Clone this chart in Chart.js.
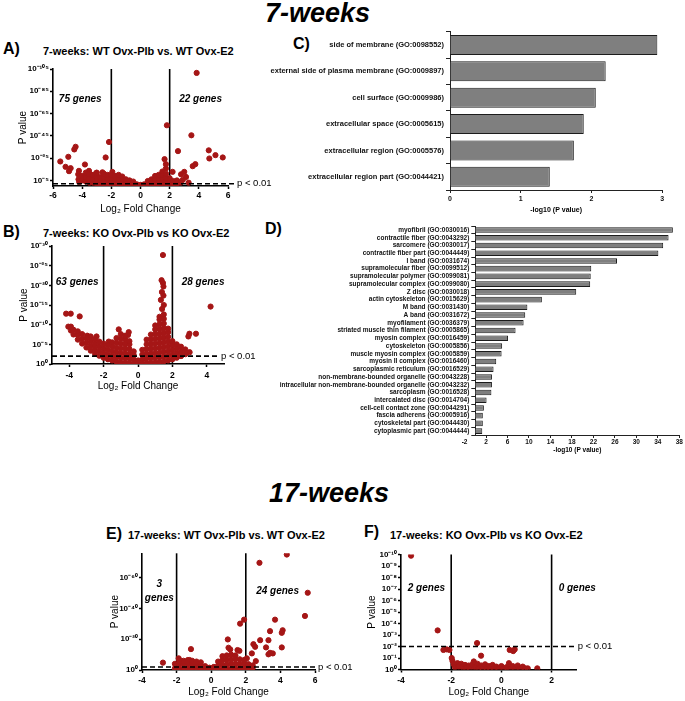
<!DOCTYPE html>
<html>
<head>
<meta charset="utf-8">
<script src="https://cdn.jsdelivr.net/npm/chart.js@4.4.0/dist/chart.umd.min.js"></script>
<style>
  body { margin: 0; background: #fff; }
  #page { position: relative; width: 685px; height: 701px; overflow: hidden; font-family: "Liberation Sans", Arial, sans-serif; color: #000; }
  #page canvas { position: absolute; }
  .t { position: absolute; white-space: nowrap; line-height: 1; }
  .big { font-size: 27px; font-weight: bold; font-style: italic; }
  .letter { font-size: 16px; font-weight: bold; }
  .ttl { font-size: 11px; font-weight: bold; }
</style>
</head>
<body>
<div id="page">
  <div class="t big" style="left:265px;top:0px">7-weeks</div>
  <div class="t big" style="left:269px;top:480px">17-weeks</div>

  <div class="t letter" style="left:3px;top:41px">A)</div>
  <div class="t ttl" style="left:43px;top:46px">7-weeks: WT Ovx-Plb vs. WT Ovx-E2</div>
  <div class="t letter" style="left:3px;top:224px">B)</div>
  <div class="t ttl" style="left:43px;top:228px">7-weeks: KO Ovx-Plb vs KO Ovx-E2</div>
  <div class="t letter" style="left:293px;top:36px">C)</div>
  <div class="t letter" style="left:265px;top:221px">D)</div>
  <div class="t letter" style="left:106px;top:526px">E)</div>
  <div class="t ttl" style="left:128px;top:530px">17-weeks: WT Ovx-Plb vs. WT Ovx-E2</div>
  <div class="t letter" style="left:364px;top:524px">F)</div>
  <div class="t ttl" style="left:390px;top:530px">17-weeks: KO Ovx-Plb vs KO Ovx-E2</div>

  <canvas id="chartA" width="285" height="160" style="left:0;top:60px"></canvas>
  <canvas id="chartB" width="285" height="162" style="left:0;top:238px"></canvas>
  <canvas id="chartC" width="430" height="195" style="left:255px;top:25px"></canvas>
  <canvas id="chartD" width="425" height="242" style="left:260px;top:218px"></canvas>
  <canvas id="chartE" width="290" height="156" style="left:90px;top:545px"></canvas>
  <canvas id="chartF" width="340" height="156" style="left:345px;top:545px"></canvas>
</div>
<script>
// volcano points: [log2 fold change, -log10 p]
const volcanoA = [
  [3.85,101.5],[1.81,54.5],[3.49,45.5],[-2.16,39.5],[-4.45,35.2],[-4.54,32.8],[4.68,32.0],[2.57,31.3],
  [-4.95,26.2],[-2.39,25.6],[-5.5,22.0],[4.72,24.7],[5.14,27.7],[5.64,25.6],[1.65,24.1],[3.58,17.8],
  [3.76,19.6],[-3.81,19.3],[-5.14,17.2],[-4.79,16.0],[-4.22,13.6],[-3.53,13.6],[-4.27,10.5],[-3.03,11.7],
  [-2.61,12.3],[-1.93,12.6],[-4.9,13.3],[1.74,19.6],[1.74,15.7],[2.2,12.7],[2.78,10.5],[3.0,12.7],
  [3.12,8.1],[2.66,3.6],[-4.2,3.6],[2.9,5.5],[3.3,3.0],[-3.9,7.5],
  [-4.25,6],[-4.0,5],[-4.0,9],[-3.75,4],[-3.75,8],[-3.75,12],[-3.5,3],[-3.5,7],[-3.5,11],
  [-3.25,3],[-3.25,6],[-3.25,10],[-3.0,2],[-3.0,5],[-3.0,9],[-3.0,12],[-2.75,2],[-2.75,5],[-2.75,8],
  [-2.5,1.5],[-2.5,4.5],[-2.5,8],[-2.5,11],[-2.25,1],[-2.25,4],[-2.25,7],[-2.25,10],
  [-2.0,1],[-2.0,4],[-2.0,7],[-2.0,10],[-1.75,1],[-1.75,3.5],[-1.75,6.5],[-1.75,9],
  [-1.5,0.8],[-1.5,3.5],[-1.5,6.5],[-1.5,10],[-1.25,0.6],[-1.25,3],[-1.25,6],[-1.25,8.5],
  [-1.0,0.5],[-1.0,3],[-1.0,6],[-0.75,0.4],[-0.75,2.5],[-0.75,5],[-0.5,0.3],[-0.5,2],[-0.5,4],
  [-0.25,0.2],[-0.25,1.5],[0,0.1],[0,1],[0.25,0.2],[0.25,1.5],[0.5,0.3],[0.5,2.5],[0.5,4.5],
  [0.75,0.5],[0.75,3],[0.75,6],[1.0,0.6],[1.0,3.5],[1.0,6.5],[1.0,9],
  [1.25,0.8],[1.25,4],[1.25,7],[1.25,10],[1.5,1],[1.5,4],[1.5,7],[1.5,10],[1.5,13],
  [1.75,1],[1.75,4],[1.75,7.5],[1.75,11],[2.0,1],[2.0,4],[2.0,7],[2.25,1.5],[2.25,4.5],
  [2.5,2],[2.5,5],[2.75,3]
];

const volcanoB = [
  [1.45,27.7],[1.37,21.3],[1.45,20.6],[1.48,19.7],[1.39,18.3],[1.48,17.4],[1.33,16.3],[1.5,15.0],[1.4,14.0],
  [4.22,14.6],[-4.18,12.8],[-3.91,12.8],[-3.39,12.1],[-1.12,8.8],[-0.54,8.1],[-0.58,7.4],
  [2.99,7.7],[3.37,7.7],[2.93,7.0],[-2.95,7.2],[-2.41,7.0],[-1.7,5.7],[2.0,5.3],
  [-4.05,9.5],[-3.9,8.5],[-3.9,9.5],[-3.75,7.5],[-3.75,8.7],[-3.5,6.2],[-3.5,7.4],[-3.5,8.3],
  [-3.25,5.2],[-3.25,6.4],[-3.25,7.6],[-3.0,4.2],[-3.0,5.4],[-3.0,6.6],
  [-2.75,3.4],[-2.75,4.6],[-2.75,5.8],[-2.75,7.0],[-2.5,2.7],[-2.5,3.9],[-2.5,5.1],[-2.5,6.3],
  [-2.25,2.1],[-2.25,3.3],[-2.25,4.5],[-2.25,5.7],[-2.0,1.6],[-2.0,2.8],[-2.0,4.0],[-2.0,5.2],
  [-1.75,1.2],[-1.75,2.4],[-1.75,3.6],[-1.75,4.8],[-1.5,0.9],[-1.5,2.1],[-1.5,3.3],[-1.5,4.5],[-1.5,5.5],
  [-1.25,0.6],[-1.25,1.8],[-1.25,3.0],[-1.25,4.2],[-1.25,5.4],[-1.25,6.6],
  [-1.0,0.4],[-1.0,1.6],[-1.0,2.8],[-1.0,4.0],[-1.0,5.2],[-1.0,6.4],[-1.0,7.6],
  [-0.75,0.3],[-0.75,1.5],[-0.75,2.7],[-0.75,3.9],[-0.75,5.1],[-0.75,6.3],[-0.75,7.2],
  [-0.5,0.2],[-0.5,1.4],[-0.5,2.6],[-0.5,3.8],[-0.5,5.0],[-0.5,5.8],
  [-0.25,0.1],[-0.25,1.2],[-0.25,2.3],[-0.25,3.2],[0,0.1],[0,0.9],
  [0.25,0.1],[0.25,1.2],[0.25,2.4],[0.25,3.6],
  [0.5,0.2],[0.5,1.4],[0.5,2.6],[0.5,3.8],[0.5,5.0],[0.5,6.2],
  [0.75,0.3],[0.75,1.5],[0.75,2.7],[0.75,3.9],[0.75,5.1],[0.75,6.3],[0.75,7.5],
  [1.0,0.4],[1.0,1.6],[1.0,2.8],[1.0,4.0],[1.0,5.2],[1.0,6.4],[1.0,7.6],[1.0,8.8],[1.0,9.8],
  [1.25,0.5],[1.25,1.7],[1.25,2.9],[1.25,4.1],[1.25,5.3],[1.25,6.5],[1.25,7.7],[1.25,8.9],[1.25,10.1],[1.25,11.3],[1.25,12.0],
  [1.5,0.7],[1.5,1.9],[1.5,3.1],[1.5,4.3],[1.5,5.5],[1.5,6.7],[1.5,7.9],[1.5,9.1],[1.5,10.3],[1.5,11.5],[1.5,12.6],
  [1.75,0.9],[1.75,2.1],[1.75,3.3],[1.75,4.5],[1.75,5.7],[1.75,6.9],[1.75,8.1],[1.75,9.0],
  [2.0,1.2],[2.0,2.4],[2.0,3.6],[2.0,4.8],[2.0,5.8],[2.25,1.6],[2.25,2.8],[2.25,4.0],[2.25,5.0],
  [2.5,2.0],[2.5,3.2],[2.5,4.4],[2.75,2.5],[2.75,3.7],[3.0,3.0]
];

const volcanoE = [
  [4.37,75.2],[2.79,69.8],[5.58,50.3],[5.42,35.2],[3.69,32.8],[1.9,32.8],[1.67,30.2],[4.13,25.9],
  [3.4,25.3],[4.08,24.2],[0.96,19.9],[2.83,19.4],[3.31,19.4],[2.44,16.8],[2.54,15.1],[3.17,14.7],
  [4.08,14.7],[1.0,14.5],[1.1,13.4],[-1.17,13.6],[1.52,13.0],[1.63,12.5],[3.4,11.2],[3.56,10.8],
  [3.31,10.2],[2.35,10.8],[-1.88,7.6],[-2.79,4.8],[-1.25,6.5],[2.06,7.6],[2.58,5.8],
  [-2.1,1],[-2.1,4],[-1.85,1],[-1.85,4],[-1.85,6.5],[-1.6,1],[-1.6,4],[-1.6,6],[-1.35,1],[-1.35,4],[-1.35,6.5],
  [-1.1,0.8],[-1.1,3.5],[-1.1,6],[-0.85,0.6],[-0.85,3.5],[-0.85,5.5],[-0.6,0.5],[-0.6,3],[-0.6,5],
  [-0.35,0.3],[-0.35,2.5],[-0.1,0.2],[-0.1,1.5],[0.15,0.2],[0.15,2],[0.4,0.3],[0.4,3],[0.4,5.5],
  [0.65,0.5],[0.65,3.5],[0.65,6.5],[0.65,9],[0.9,0.6],[0.9,3.5],[0.9,6.5],[0.9,9.5],
  [1.15,0.8],[1.15,4],[1.15,7],[1.15,10],[1.4,1],[1.4,4],[1.4,7],[1.4,9.5],
  [1.65,1],[1.65,4],[1.65,7],[1.9,1],[1.9,4],[1.9,6.5],[2.15,1.2],[2.15,3.8],[2.4,1.5],[2.4,3]
];

const volcanoF = [
  [-3.6,9.9],[-2.54,3.4],[-0.97,2.3],[-2.31,1.7],[-2.18,1.75],[-2.07,1.7],[-0.81,1.2],[-1.98,1.0],
  [0.33,1.7],[0.47,1.6],[0.53,1.75],
  [-1.95,0.75],[-1.9,0.45],[-1.85,0.2],[-1.75,0.55],[-1.7,0.25],[-1.6,0.5],[-1.55,0.2],[-1.45,0.4],
  [-1.4,0.15],[-1.3,0.35],[-1.25,0.1],[-1.15,0.45],[-1.1,0.7],[-1.05,0.2],[-0.95,0.5],[-0.9,0.15],
  [-0.8,0.35],[-0.75,0.1],[-0.65,0.45],[-0.6,0.15],[-0.5,0.3],[-0.45,0.1],[-0.35,0.4],[-0.3,0.1],
  [-0.2,0.25],[-0.1,0.1],[0,0.3],[0.1,0.1],[0.2,0.2],[0.3,0.55],[0.35,0.1],[0.45,0.3],[0.55,0.1],
  [0.65,0.35],[0.75,0.1],[0.85,0.25],[0.95,0.1],[1.05,0.1],[1.43,0.1]
];

// tick values
const ticksA_y = [5, 25, 45, 65, 85, 105];
const ticksA_x = [-6, -4, -2, 0, 2, 4, 6];
const ticksB_y = [0, 5, 10, 15, 20, 25, 30];
const ticksB_x = [-4, -2, 0, 2, 4];
const ticksE_y = [0, 20, 40, 60];
const ticksE_x = [-4, -2, 0, 2, 4, 6];
const ticksF_y = [0, 1, 2, 3, 4, 5, 6, 7, 8, 9, 10];
const ticksF_x = [-4, -2, 0, 2];

const foldCutoffs = [-2, 2];
const pCutoff = 2; // -log10(0.01)

// GO enrichment, panel C
const goC_terms = [
  'side of membrane (GO:0098552)',
  'external side of plasma membrane (GO:0009897)',
  'cell surface (GO:0009986)',
  'extracellular space (GO:0005615)',
  'extracellular region (GO:0005576)',
  'extracellular region part (GO:0044421)'
];
const goC_values = [2.93, 2.20, 2.06, 1.89, 1.75, 1.41];
const goC_ticks = [0, 1, 2, 3];

// GO enrichment, panel D
const goD_terms = [
  'myofibril (GO:0030016)',
  'contractile fiber (GO:0043292)',
  'sarcomere (GO:0030017)',
  'contractile fiber part (GO:0044449)',
  'I band (GO:0031674)',
  'supramolecular fiber (GO:0099512)',
  'supramolecular polymer (GO:0099081)',
  'supramolecular complex (GO:0099080)',
  'Z disc (GO:0030018)',
  'actin cytoskeleton (GO:0015629)',
  'M band (GO:0031430)',
  'A band (GO:0031672)',
  'myofilament (GO:0036379)',
  'striated muscle thin filament (GO:0005865)',
  'myosin complex (GO:0016459)',
  'cytoskeleton (GO:0005856)',
  'muscle myosin complex (GO:0005859)',
  'myosin II complex (GO:0016460)',
  'sarcoplasmic reticulum (GO:0016529)',
  'non-membrane-bounded organelle (GO:0043228)',
  'intracellular non-membrane-bounded organelle (GO:0043232)',
  'sarcoplasm (GO:0016528)',
  'intercalated disc (GO:0014704)',
  'cell-cell contact zone (GO:0044291)',
  'fascia adherens (GO:0005916)',
  'cytoskeletal part (GO:0044430)',
  'cytoplasmic part (GO:0044444)'
];
const goD_values = [36.8, 36.0, 35.0, 34.1, 26.4, 21.6, 21.5, 21.4, 18.8, 12.4, 9.7, 9.3, 9.0,
  7.5, 6.1, 5.0, 4.9, 3.9, 3.4, 3.1, 3.1, 3.0, 2.1, 1.6, 1.4, 1.4, 1.3];
const goD_ticks = [-2, 2, 6, 10, 14, 18, 22, 26, 30, 34, 38];

const FONT = '"Liberation Sans", Arial, sans-serif';
const RED = '#a51616';
Chart.defaults.font.family = FONT;
Chart.defaults.color = '#000';

const SUP = { '-': '⁻', '0': '⁰', '1': '¹', '2': '²', '3': '³', '4': '⁴', '5': '⁵', '6': '⁶', '7': '⁷', '8': '⁸', '9': '⁹' };
const pLabel = v => '10' + String(-v).replace(/./g, c => SUP[c]);

// threshold lines, "p < 0.01" and gene counts
function marks(o) {
  return {
    id: 'marks',
    beforeDatasetsDraw(chart) {
      const { ctx, chartArea: a, scales: { x } } = chart;
      ctx.save();
      ctx.strokeStyle = '#000';
      ctx.lineWidth = 1.6;
      foldCutoffs.forEach(v => {
        const px = x.getPixelForValue(v);
        ctx.beginPath(); ctx.moveTo(px, a.bottom); ctx.lineTo(px, a.top); ctx.stroke();
      });
      ctx.restore();
    },
    afterDatasetsDraw(chart) {
      const { ctx, chartArea: a, scales: { x, y } } = chart;
      const py = y.getPixelForValue(pCutoff);
      const tx = a.right + o.pDx;
      ctx.save();
      ctx.strokeStyle = '#000';
      ctx.lineWidth = 1.6;
      ctx.setLineDash([5, 3]);
      ctx.beginPath(); ctx.moveTo(a.left, py); ctx.lineTo(tx - 3, py); ctx.stroke();
      ctx.setLineDash([]);
      ctx.fillStyle = '#000';
      ctx.textBaseline = 'middle';
      ctx.font = '9.5px ' + FONT;
      ctx.fillText('p < 0.01', tx, py);
      ctx.font = 'italic bold 10px ' + FONT;
      o.genes.forEach(g => {
        ctx.textAlign = g.align || 'left';
        ctx.fillText(g.text, x.getPixelForValue(g.x), y.getPixelForValue(g.y));
      });
      ctx.restore();
    }
  };
}

function volcano(id, points, o) {
  return new Chart(document.getElementById(id), {
    type: 'scatter',
    data: {
      datasets: [{
        data: points.map(p => ({ x: p[0], y: p[1] })),
        backgroundColor: RED,
        borderColor: RED,
        borderWidth: 1,
        pointRadius: 2.6,
        pointHoverRadius: 2.6
      }]
    },
    options: {
      responsive: false,
      animation: false,
      events: [],
      layout: { padding: { left: o.pad[0], top: o.pad[1], right: o.pad[2], bottom: o.pad[3] } },
      plugins: { legend: { display: false }, tooltip: { enabled: false } },
      scales: {
        x: {
          type: 'linear', min: o.xMin, max: o.xMax,
          afterBuildTicks: s => { s.ticks = o.xTicks.map(v => ({ value: v })); },
          afterFit: s => { s.height = o.xH; },
          grid: { drawOnChartArea: false, tickLength: 3, tickColor: '#000', tickWidth: 1.5 },
          border: { color: '#000', width: 1.6 },
          ticks: { font: { size: 8.5, weight: 'bold' }, color: '#000', padding: o.xTickPad, autoSkip: false, maxRotation: 0 },
          title: { display: true, text: 'Log₂ Fold Change', font: { size: 10 }, padding: 0 }
        },
        y: {
          type: 'linear', min: o.yMin, max: o.yMax,
          afterBuildTicks: s => { s.ticks = o.yTicks.map(v => ({ value: v })); },
          afterFit: s => { s.width = o.yW; },
          grid: { drawOnChartArea: false, tickLength: 3, tickColor: '#000', tickWidth: 1.5 },
          border: { color: '#000', width: 1.6 },
          ticks: { font: { size: 8, weight: 'bold' }, color: '#000', padding: 1, autoSkip: false, callback: pLabel },
          title: { display: true, text: 'P value', font: { size: 10 }, padding: 0 }
        }
      }
    },
    plugins: [marks(o)]
  });
}

function goBars(id, terms, values, o) {
  return new Chart(document.getElementById(id), {
    type: 'bar',
    data: {
      labels: terms,
      datasets: [{
        data: values,
        backgroundColor: '#7f7f7f',
        borderColor: '#1c1c1c',
        borderWidth: 1,
        barPercentage: o.barPct,
        categoryPercentage: 1
      }]
    },
    options: {
      indexAxis: 'y',
      responsive: false,
      animation: false,
      events: [],
      layout: { padding: { left: 0, top: o.pad[1], right: o.pad[2], bottom: o.pad[3] } },
      plugins: { legend: { display: false }, tooltip: { enabled: false } },
      scales: {
        y: {
          afterFit: s => { s.width = o.yW; },
          grid: { drawOnChartArea: false, tickLength: 4, tickColor: '#222' },
          border: { color: '#222', width: 1 },
          ticks: { font: { size: o.labelSize, weight: 'bold' }, color: '#111', padding: 2, autoSkip: false }
        },
        x: {
          min: 0, max: o.max,
          afterBuildTicks: s => { s.ticks = o.ticks.map(v => ({ value: v })); },
          afterFit: s => { s.height = o.xH; },
          grid: { drawOnChartArea: false, tickLength: 3, tickColor: c => (c.tick && c.tick.value < 0) ? 'rgba(0,0,0,0)' : '#222' },
          border: { color: '#222', width: 1 },
          ticks: { font: { size: o.tickSize, weight: 'bold' }, color: '#111', padding: o.xTickPad, autoSkip: false, maxRotation: 0 },
          title: { display: true, text: '-log10 (P value)', font: { size: o.tickSize, weight: 'bold' }, padding: 0 }
        }
      }
    }
  });
}

volcano('chartA', volcanoA, {
  xMin: -6, xMax: 6, yMin: 0, yMax: 105, xTicks: ticksA_x, yTicks: ticksA_y,
  pad: [17, 9, 57, 4.7], yW: 36, xH: 29.3, xTickPad: 1.75, pDx: 9,
  genes: [{ text: '75 genes', x: -5.6, y: 77.7 }, { text: '22 genes', x: 2.65, y: 77.7 }]
});
volcano('chartB', volcanoB, {
  xMin: -5, xMax: 5, yMin: 0, yMax: 30, xTicks: ticksB_x, yTicks: ticksB_y,
  pad: [18, 8, 61, 7.3], yW: 34, xH: 28.7, xTickPad: 4, pDx: -3,
  genes: [{ text: '63 genes', x: -4.78, y: 20.7 }, { text: '28 genes', x: 2.54, y: 20.7 }]
});
volcano('chartE', volcanoE, {
  xMin: -4, xMax: 6, yMin: 0, yMax: 76, xTicks: ticksE_x, yTicks: ticksE_y,
  pad: [19, 8.3, 65, 2.3], yW: 33, xH: 28.7, xTickPad: 2.75, pDx: 3,
  genes: [{ text: '3', x: -3.0, y: 55.6, align: 'center' }, { text: 'genes', x: -3.0, y: 46.6, align: 'center' },
          { text: '24 genes', x: 2.6, y: 51.3 }]
});
volcano('chartF', volcanoF, {
  xMin: -4, xMax: 3, yMin: 0, yMax: 10, xTicks: ticksF_x, yTicks: ticksF_y,
  pad: [21.7, 9.5, 108.3, 2.3], yW: 34.3, xH: 29.2, xTickPad: 2.75, pDx: 1,
  genes: [{ text: '2 genes', x: -3.73, y: 7.1 }, { text: '0 genes', x: 2.28, y: 7.1 }]
});

goBars('chartC', goC_terms, goC_values, {
  max: 3, ticks: goC_ticks, barPct: 0.76, labelSize: 7.5, tickSize: 7,
  pad: [0, 6.8, 22.7, 5.8], yW: 195, xH: 24.2, xTickPad: 1.8
});
goBars('chartD', goD_terms, goD_values, {
  max: 38, ticks: goD_ticks, barPct: 0.72, labelSize: 6.5, tickSize: 6.5,
  pad: [0, 8.1, 5.7, 6.1], yW: 215.3, xH: 18.9, xTickPad: 0.5
});
</script>
</body>
</html>
